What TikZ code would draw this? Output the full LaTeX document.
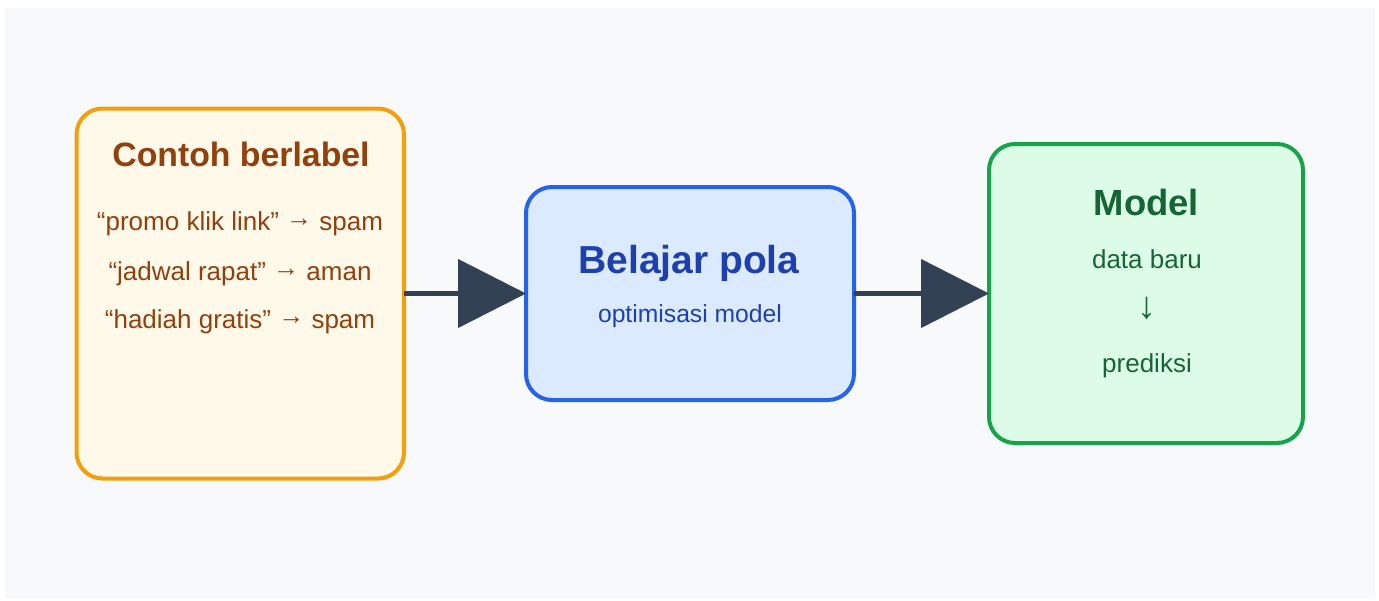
\documentclass[tikz,border=0pt]{standalone}
\usepackage{fontspec}
\setmainfont{Liberation Sans}
\usetikzlibrary{arrows.meta}

\definecolor{canvas}{HTML}{F8F9FB}
\definecolor{slate}{HTML}{334155}
\definecolor{amberline}{HTML}{F59E0B}
\definecolor{amberfill}{HTML}{FEF9E8}
\definecolor{ambertext}{HTML}{92400E}
\definecolor{blueline}{HTML}{2563EB}
\definecolor{bluefill}{HTML}{DBEAFE}
\definecolor{bluetext}{HTML}{1E40AF}
\definecolor{greenline}{HTML}{16A34A}
\definecolor{greenfill}{HTML}{DCFCE7}
\definecolor{greentext}{HTML}{166534}

% inline arrow, lifted to the middle of the lowercase letters
\newcommand{\toarrow}{\raisebox{4pt}{→}}

\begin{document}
\begin{tikzpicture}[x=1pt,y=-1pt,
  card/.style={draw, line width=4pt, rounded corners=26pt, outer sep=0pt, inner sep=0pt},
  flow/.style={draw=slate, line width=4.5pt, -{Triangle[length=68pt,width=68pt]}},
  label/.style={anchor=base, inner sep=0pt},
  heading/.style={label, font=\bfseries\fontsize{#1}{#1}\selectfont},
  bodytext/.style={label, font=\fontsize{#1}{#1}\selectfont}]

  \useasboundingbox (0,0) rectangle (1379,600);
  \fill[canvas] (5,8) rectangle (1375,599);

  % the three stages
  \node[card, draw=amberline, fill=amberfill, minimum width=327.5pt, minimum height=370pt] (examples) at (240.25,293.5) {};
  \node[card, draw=blueline, fill=bluefill, minimum width=328pt, minimum height=213pt] (learn) at (690,293.5) {};
  \node[card, draw=greenline, fill=greenfill, minimum width=314pt, minimum height=299pt] (model) at (1146,293.5) {};

  % labelled examples
  \node[heading=33.8, text=ambertext] (exTitle) at (241,166) {Contoh berlabel};
  \node[bodytext=26, text=ambertext] (exOne) at (240,230) {“promo klik link” \toarrow{} spam};
  \node[bodytext=26, text=ambertext] (exTwo) at (240,280) {“jadwal rapat” \toarrow{} aman};
  \node[bodytext=26, text=ambertext] (exThree) at (240,328.5) {“hadiah gratis” \toarrow{} spam};

  % learning step
  \node[heading=39, text=bluetext] (learnTitle) at (689,273) {Belajar pola};
  \node[bodytext=24.7, text=bluetext] (learnSub) at (690,322) {optimisasi model};

  % trained model
  \node[heading=36.4, text=greentext] (modelTitle) at (1146.5,215) {Model};
  \node[bodytext=26, text=greentext] (newData) at (1147,268) {data baru};
  \node[anchor=center, inner sep=0pt, font=\fontsize{38}{38}\selectfont, text=greentext] (down) at (1147,308.5) {↓};
  \node[bodytext=26, text=greentext] (predict) at (1147,372) {prediksi};

  % connectors
  \draw[flow] (examples.east) -- (learn.west);
  \draw[flow] (learn.east) -- (model.west);
\end{tikzpicture}
\end{document}
